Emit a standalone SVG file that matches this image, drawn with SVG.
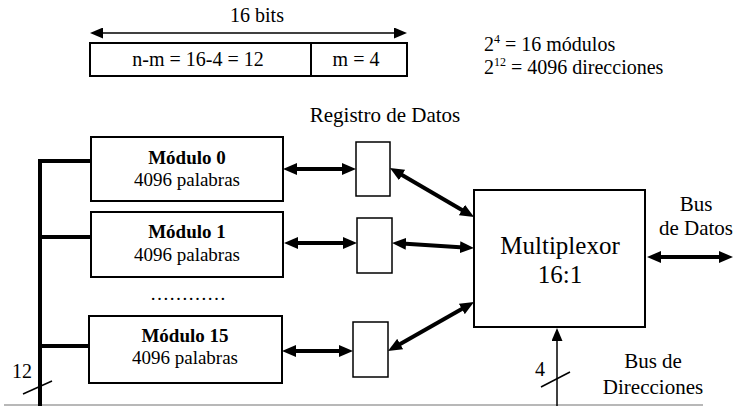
<svg xmlns="http://www.w3.org/2000/svg" width="734" height="406" viewBox="0 0 734 406">
<style>
text{font-family:"Liberation Serif","Times New Roman",serif;fill:#000}
.box{fill:#fff;stroke:#000;stroke-width:2}
.reg{fill:#fff;stroke:#000;stroke-width:1.5}
.thick{stroke:#000;stroke-width:4;fill:none}
.bus{stroke:#000;stroke-width:4;fill:none}
.thin{stroke:#000;stroke-width:1.5;fill:none}
.m{font-size:19px;text-anchor:middle}
.b{font-weight:bold}
.c{text-anchor:middle}
</style>
<defs>
<marker id="ah" viewBox="0 0 14 12" markerWidth="14" markerHeight="12" markerUnits="userSpaceOnUse" refX="4" refY="6" orient="auto-start-reverse"><path d="M0,0 L14,6 L0,12 z" fill="#000"/></marker>
<marker id="at" viewBox="0 0 13 11" markerWidth="13" markerHeight="11" markerUnits="userSpaceOnUse" refX="3" refY="5.5" orient="auto-start-reverse"><path d="M0,0 L13,5.5 L0,11 z" fill="#000"/></marker>
</defs>
<rect width="734" height="406" fill="#fff"/>

<g id="word-format">
<text x="257" y="22" class="c" font-size="20">16 bits</text>
<rect x="90" y="43" width="317" height="33" class="box"/>
<line x1="311" y1="43" x2="311" y2="76" stroke="#000" stroke-width="2"/>
<text x="198" y="66" class="c" font-size="20">n-m = 16-4 = 12</text>
<text x="356" y="66" class="c" font-size="20">m = 4</text>
</g>

<g id="formulas">
<text x="484" y="51" font-size="20">2<tspan dy="-8" font-size="12">4</tspan><tspan dy="8"> = 16 módulos</tspan></text>
<text x="484" y="74" font-size="20">2<tspan dy="-8" font-size="12">12</tspan><tspan dy="8"> = 4096 direcciones</tspan></text>
</g>

<g id="modulo0">
<rect x="91" y="137" width="192" height="64" class="box"/>
<text x="187" y="164" class="m b">Módulo 0</text>
<text x="187" y="186" class="m">4096 palabras</text>
</g>
<g id="modulo1">
<rect x="91" y="212" width="192" height="65" class="box"/>
<text x="187" y="238" class="m b">Módulo 1</text>
<text x="187" y="261" class="m">4096 palabras</text>
</g>
<g id="dots"><text x="150" y="300" font-size="19">…………</text></g>
<g id="modulo15">
<rect x="89" y="316" width="193" height="67" class="box"/>
<text x="185" y="342" class="m b">Módulo 15</text>
<text x="185" y="364" class="m">4096 palabras</text>
</g>

<g id="registros">
<text x="385" y="122" class="c" font-size="21">Registro de Datos</text>
<rect id="reg0" x="356" y="142" width="34" height="54" class="reg"/>
<rect id="reg1" x="357" y="218" width="35" height="55" class="reg"/>
<rect id="reg15" x="353" y="322" width="35" height="55" class="reg"/>
</g>

<g id="multiplexor">
<rect x="474" y="190" width="171" height="137" class="box"/>
<text x="560" y="254" class="c" font-size="25">Multiplexor</text>
<text x="560" y="283" class="c" font-size="25">16:1</text>
</g>

<g id="labels">
<text x="696" y="211" class="c" font-size="21">Bus</text>
<text x="696" y="235" class="c" font-size="21">de Datos</text>
<text x="653" y="368" class="c" font-size="21">Bus de</text>
<text x="653" y="394" class="c" font-size="21">Direcciones</text>
<text x="540" y="376" class="c" font-size="20">4</text>
<text x="22" y="378" class="c" font-size="20">12</text>
</g>

<g id="connectors">
<line x1="100" y1="33" x2="397" y2="33" class="thin" marker-start="url(#at)" marker-end="url(#at)"/>
<line x1="4" y1="405" x2="703" y2="405" stroke="#a0a0a0" stroke-width="1.5"/>
<line x1="40" y1="159" x2="40" y2="406" class="bus"/>
<line x1="38" y1="161" x2="91" y2="161" class="bus"/>
<line x1="38" y1="237" x2="91" y2="237" class="bus"/>
<line x1="38" y1="346" x2="89" y2="346" class="bus"/>
<line x1="23" y1="394" x2="52" y2="381" class="thin"/>
<line x1="293" y1="169" x2="346" y2="169" class="thick" marker-start="url(#ah)" marker-end="url(#ah)"/>
<line x1="294" y1="243" x2="347" y2="243" class="thick" marker-start="url(#ah)" marker-end="url(#ah)"/>
<line x1="292" y1="351" x2="343" y2="351" class="thick" marker-start="url(#ah)" marker-end="url(#ah)"/>
<line x1="398.6" y1="173" x2="465.4" y2="212" class="thick" marker-start="url(#ah)" marker-end="url(#ah)"/>
<line x1="402" y1="243.6" x2="464" y2="247.4" class="thick" marker-start="url(#ah)" marker-end="url(#ah)"/>
<line x1="396.7" y1="346" x2="465.3" y2="307" class="thick" marker-start="url(#ah)" marker-end="url(#ah)"/>
<line x1="657" y1="257" x2="723" y2="257" class="thick" marker-start="url(#ah)" marker-end="url(#ah)"/>
<line x1="557" y1="406" x2="557" y2="338" class="thin" marker-end="url(#at)"/>
<line x1="541" y1="387" x2="570" y2="372" class="thin"/>
</g>
</svg>
